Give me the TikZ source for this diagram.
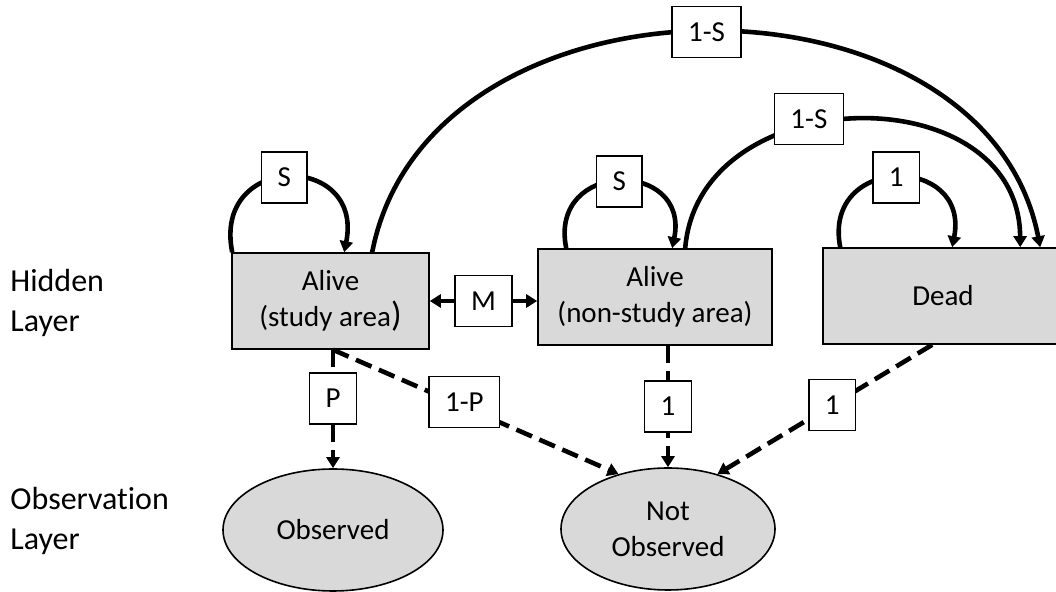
\documentclass[tikz,border=0pt]{standalone}
\usepackage{fontspec}
\setmainfont{Carlito}[Ligatures=NoCommon]
\usetikzlibrary{arrows.meta, calc, shapes.geometric}
\definecolor{boxfill}{HTML}{D9D9D9}
\tikzset{
    state/.style = {draw, line width=0.8pt, fill=boxfill, align=center, inner sep=0pt,
        minimum height=48pt, font=\fontsize{14.5}{18}\selectfont},
    obs/.style = {ellipse, draw, line width=0.8pt, fill=boxfill, align=center, inner sep=0pt,
        minimum width=110pt, minimum height=61pt, font=\fontsize{14.5}{18}\selectfont},
    lbl/.style = {draw, solid, fill=white, line width=0.75pt, inner xsep=8pt, inner ysep=0pt,
        minimum height=25.5pt, font=\fontsize{14.5}{17}\selectfont},
    trans/.style = {line width=2.3pt, ->},
    detect/.style = {trans, dash pattern=on 8.5pt off 4pt},
    layer/.style = {align=left, anchor=west, inner xsep=0pt, font=\fontsize{16}{20}\selectfont}
}

\begin{document}
\begin{tikzpicture}[x=0.5pt, y=-0.5pt, >={Triangle[length=5.5pt, width=6.5pt]}]
    \useasboundingbox (0,0) rectangle (1056,592);
    \clip (0,0) rectangle (1056,592);

    \node[layer] (hidlab) at (10,303) {Hidden\\Layer};
    \node[layer] (obslab) at (10,521) {Observation\\Layer};

    \node[state, minimum width=98.5pt] (study) at (330.5,301)
        {Alive\\(study area{\fontsize{17.5}{18}\selectfont )}};
    \node[state, minimum width=117pt] (away) at (655,297) {Alive\\(non-study area)};
    \node[state, minimum width=120pt] (dead) at (943,296) {Dead};

    \node[obs] (seen) at (333,530) {Observed};
    \node[obs, minimum width=107pt] (unseen) at (668,529) {Not\\Observed};

    % staying put
    \draw[trans] ($(study.north west)+(1,0)$) .. controls +(-20,-100) and +(20,-100) ..
        ($(study.north west)+(113,0)$) node[lbl, pos=0.48] (surv1) {S};
    \draw[trans] ($(away.north west)+(29,0)$) .. controls +(-18,-89) and +(18,-89) ..
        ($(away.north west)+(135,0)$) node[lbl, pos=0.5] (surv2) {S};
    \draw[trans] ($(dead.north west)+(18,0)$) .. controls +(-18,-93) and +(18,-93) ..
        ($(dead.north west)+(130,0)$) node[lbl, pos=0.5] (stay) {1};

    % dying
    \draw[trans] ($(study.north west)+(141,0)$) .. controls +(57,-293) and +(-56,-288) ..
        ($(dead.north west)+(218,0)$) node[lbl, pos=0.5] (die1) {1-S};
    \draw[trans] ($(away.north west)+(148,0)$) .. controls +(14,-169) and +(-1,-173) ..
        ($(dead.north west)+(198,0)$) node[lbl, pos=0.4, yshift=3pt] (die2) {1-S};

    % moving
    \draw[trans, <->] (study.east) -- (study.east -| away.west) node[lbl, midway] (move) {M};

    % detection
    \draw[detect] (seen.north |- study.south) -- (seen.north) node[lbl, pos=0.41] (det) {P};
    \draw[detect] (seen.north |- study.south) -- (unseen.132)
        node[lbl, pos=0.46, yshift=2.5pt] (miss) {1-P};
    \draw[detect] (unseen.north |- away.south) -- (unseen.north) node[lbl, pos=0.5] (miss2) {1};
    \draw[detect] ($(dead.south west)+(110,0)$) -- (unseen.48) node[lbl, pos=0.465] (miss3) {1};
\end{tikzpicture}
\end{document}
